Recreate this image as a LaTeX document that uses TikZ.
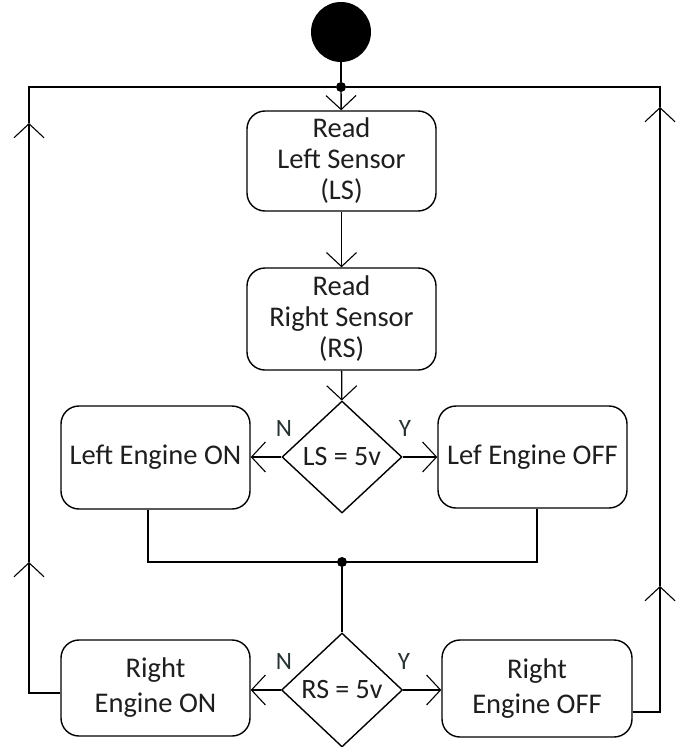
\documentclass[tikz,border=0pt]{standalone}
\usepackage{fontspec}
\setmainfont{Carlito}
\usetikzlibrary{arrows.meta,shapes.geometric}
\definecolor{txt}{RGB}{30,30,30}
\definecolor{lblc}{RGB}{40,50,50}
\begin{document}
\begin{tikzpicture}[x=1pt,y=-1pt,
  line/.style={line width=1.4pt, draw=black},
  arr/.style={line, -{Straight Barb[length=14pt,width=30pt,line width=1.1pt]}},
  box/.style={draw, line width=1.4pt, rounded corners=18pt, minimum width=189pt,
    align=center, inner sep=0pt, font=\fontsize{28.5}{31}\selectfont, text=txt},
  lowbox/.style={box, font=\fontsize{28.5}{35}\selectfont},
  dec/.style={draw, diamond, line width=1.4pt, inner sep=0pt, aspect=1.07,
    font=\fontsize{28}{31}\selectfont, text=txt},
  lbl/.style={font=\fontsize{25}{28}\selectfont, text=lblc},
  dot/.style={circle, fill=black, inner sep=0pt, minimum size=10pt}
]
\useasboundingbox (0,0) rectangle (676,747);

% nodes
\node[circle, fill=black, minimum size=60pt, inner sep=0pt] (start) at (341,32) {};
\node[dot] (d1) at (341,87) {};
\node[box, minimum height=100pt] (rls) at (341.5,161) {Read\\Left Sensor\\(LS)};
\node[box, minimum height=102pt] (rrs) at (341.5,319) {Read\\Right Sensor\\(RS)};
\node[dec, minimum width=120pt, minimum height=112pt] (q1) at (342,457) {LS = 5v};
\node[box, minimum height=103pt] (lon) at (155.5,457.5) {Left Engine ON};
\node[box, minimum height=102pt] (loff) at (532.5,457) {Lef Engine OFF};
\node[dot] (d2) at (342,562) {};
\node[dec, minimum width=121pt, minimum height=114pt] (q2) at (342,690) {RS = 5v};
\node[lowbox, minimum height=96pt] (ron) at (155.5,688) {Right\\Engine ON};
\node[lowbox, minimum height=97pt, minimum width=190pt] (roff) at (537,688.5) {Right\\Engine OFF};
\node[lbl] (n1) at (284,428) {N};
\node[lbl] (y1) at (405,428) {Y};
\node[lbl] (n2) at (284,661) {N};
\node[lbl] (y2) at (404,661) {Y};

% main flow
\draw[line] (start) -- (d1);
\draw[arr] (d1) -- (rls);
\draw[arr] (rls) -- (rrs);
\draw[arr] (rrs) -- (q1);
\draw[arr] (q1.west) -- (q1.west -| lon.east);
\draw[arr] (q1.east) -- (q1.east -| loff.west);
\coordinate (m1) at (148,562);
\coordinate (m2) at (537,562);
\draw[line] (lon.south -| m1) -- (m1) -- (m2) -- (loff.south -| m2);
\draw[line] (d2) -- (q2);
\draw[arr] (q2.west) -- (q2.west -| ron.east);
\draw[arr] (q2.east) -- (q2.east -| roff.west);

% left loop
\coordinate (LB) at (29,693);
\coordinate (LT) at (29,87);
\coordinate (aL1) at (29,562);
\coordinate (aL2) at (29,123);
\draw[arr] (LB -| ron.west) -- (LB) -- (aL1);
\draw[arr] (aL1) -- (aL2);
\draw[line] (aL2) -- (LT) -- (d1);

% right loop
\coordinate (RB) at (660,712);
\coordinate (RT) at (660,87);
\coordinate (aR1) at (660,586);
\coordinate (aR2) at (660,107);
\draw[arr] (RB -| roff.east) -- (RB) -- (aR1);
\draw[arr] (aR1) -- (aR2);
\draw[line] (aR2) -- (RT) -- (d1);
\end{tikzpicture}
\end{document}
